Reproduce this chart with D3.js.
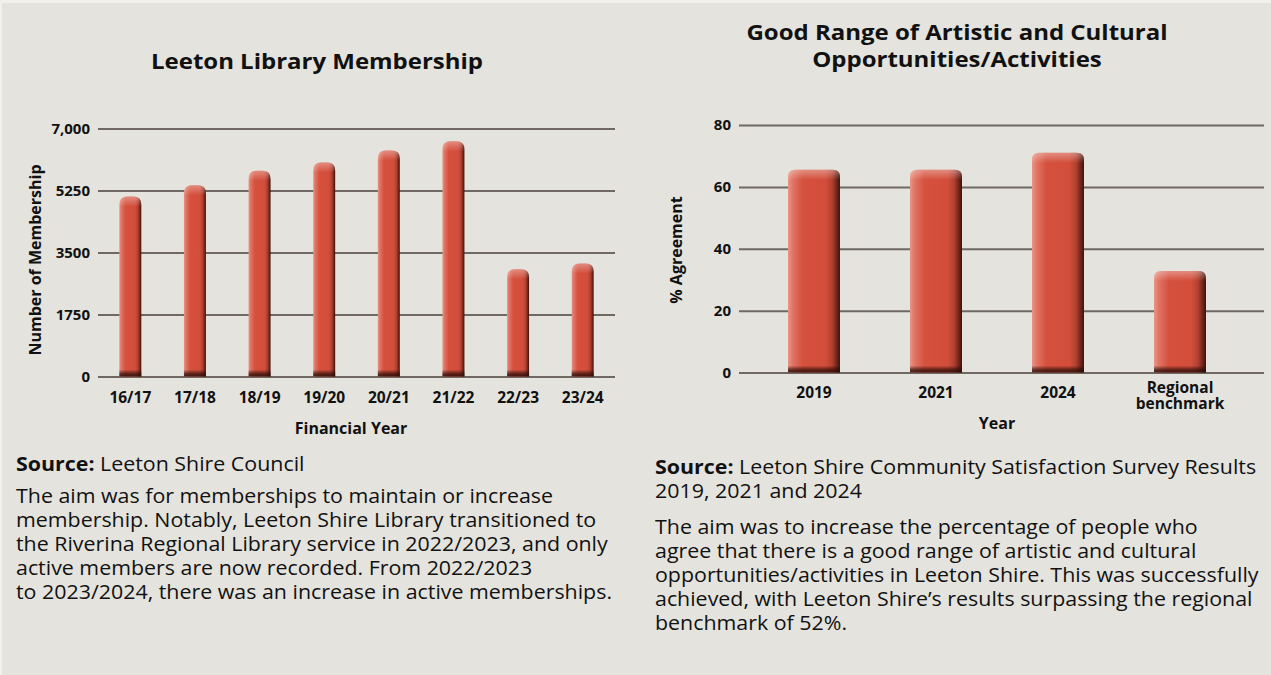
<!DOCTYPE html>
<html>
<head>
<meta charset="utf-8">
<script src="https://cdn.jsdelivr.net/npm/d3@7"></script>
<style>
  html, body { margin: 0; padding: 0; background: #f1f0ec; }
  svg { display: block; }
  text { font-family: "Open Sans", "Noto Sans", sans-serif; fill: #111; }
  .tick text { font-weight: 700; font-size: 15px; }
</style>
</head>
<body>
<script>
// Library membership chart data
const years = ["16/17", "17/18", "18/19", "19/20", "20/21", "21/22", "22/23", "23/24"];
const members = [5080, 5400, 5810, 6040, 6380, 6640, 3030, 3190];
const memberTicks = [0, 1750, 3500, 5250, 7000];
const memberTickLabels = ["0", "1750", "3500", "5250", "7,000"];

// Artistic & cultural survey data
const surveyCats = ["2019", "2021", "2024", "Regional benchmark"];
const agreement = [65.5, 65.5, 71, 32.8];
const agreeTicks = [0, 20, 40, 60, 80];

const W = 1271, H = 675;
const bg = "#e4e3dd";
const gridColor = "#6f6863";

const svg = d3.select("body").append("svg")
  .attr("width", W).attr("height", H);

svg.append("rect").attr("x", 2).attr("y", 3).attr("width", W - 2).attr("height", H - 3).attr("fill", bg);

// gradients for the bars
const defs = svg.append("defs");
const gH = defs.append("linearGradient").attr("id", "barH").attr("x1", 0).attr("x2", 1).attr("y1", 0).attr("y2", 0);
[[0, "#e99484"], [0.1, "#e07262"], [0.28, "#d5513e"], [0.72, "#d24e3b"], [0.85, "#b0402f"], [0.94, "#6e2419"], [1, "#38120c"]]
  .forEach(s => gH.append("stop").attr("offset", s[0]).attr("stop-color", s[1]));
const gTop = defs.append("linearGradient").attr("id", "barTop").attr("x1", 0).attr("x2", 0).attr("y1", 0).attr("y2", 1);
gTop.append("stop").attr("offset", 0).attr("stop-color", "#fff").attr("stop-opacity", 0.35);
gTop.append("stop").attr("offset", 1).attr("stop-color", "#fff").attr("stop-opacity", 0);
const gBot = defs.append("linearGradient").attr("id", "barBot").attr("x1", 0).attr("x2", 0).attr("y1", 0).attr("y2", 1);
gBot.append("stop").attr("offset", 0).attr("stop-color", "#2a0c07").attr("stop-opacity", 0);
gBot.append("stop").attr("offset", 0.6).attr("stop-color", "#2a0c07").attr("stop-opacity", 0.7);
gBot.append("stop").attr("offset", 1).attr("stop-color", "#2a0c07").attr("stop-opacity", 0.85);

function topRounded(x, y, w, h, r) {
  r = Math.min(r, w / 2, h);
  return "M" + x + "," + (y + h) +
    "V" + (y + r) +
    "Q" + x + "," + y + " " + (x + r) + "," + y +
    "H" + (x + w - r) +
    "Q" + (x + w) + "," + y + " " + (x + w) + "," + (y + r) +
    "V" + (y + h) + "Z";
}

function drawBars(g, data, x, y, r) {
  const bars = g.selectAll("g.bar").data(data).enter().append("g").attr("class", "bar");
  bars.append("path")
    .attr("d", d => topRounded(x(d.k), y(d.v), x.bandwidth(), y(0) - y(d.v), r))
    .attr("fill", "url(#barH)");
  bars.append("path")
    .attr("d", d => topRounded(x(d.k), y(d.v), x.bandwidth(), Math.min(10, y(0) - y(d.v)), r))
    .attr("fill", "url(#barTop)");
  bars.append("rect")
    .attr("x", d => x(d.k)).attr("y", y(0) - 7)
    .attr("width", x.bandwidth()).attr("height", 7)
    .attr("fill", "url(#barBot)");
}

function styleGrid(g) {
  g.select(".domain").remove();
  g.selectAll(".tick line").attr("stroke", gridColor).attr("stroke-width", 2);
}

// stretched text helper (reference font is wider than Open Sans at the same height)
function wideText(parent, x, y, str, size, k, anchor) {
  return parent.append("text")
    .attr("transform", "translate(" + x + "," + y + ") scale(" + k + ",1)")
    .attr("text-anchor", anchor || "start")
    .style("font-size", size + "px").text(str);
}

// ---------- Left chart ----------
const L = svg.append("g");
const x1 = d3.scaleBand().domain(years).range([98, 615]).paddingInner(0.66).paddingOuter(0.33);
const y1 = d3.scaleLinear().domain([0, 7000]).range([376.5, 128.5]);

L.append("g").attr("transform", "translate(98,0)")
  .call(d3.axisLeft(y1).tickValues(memberTicks).tickSize(-517).tickPadding(8)
    .tickFormat((d, i) => memberTickLabels[i]))
  .call(styleGrid);

drawBars(L, years.map((k, i) => ({k: k, v: members[i]})), x1, y1, 8);

L.append("g").attr("transform", "translate(0,376.5)")
  .call(d3.axisBottom(x1).tickSize(0).tickPadding(15))
  .call(g => g.select(".domain").remove())
  .selectAll(".tick text").style("font-size", "15.5px");

wideText(L, 317, 69, "Leeton Library Membership", 21.5, 1.116, "middle").style("font-weight", 700);
L.append("text").attr("x", 351).attr("y", 434).attr("text-anchor", "middle")
  .style("font-size", "16px").style("font-weight", 700).text("Financial Year");
L.append("text").attr("transform", "translate(41,260) rotate(-90)").attr("text-anchor", "middle")
  .style("font-size", "16px").style("font-weight", 700).text("Number of Membership");

// ---------- Right chart ----------
const R = svg.append("g");
const x2 = d3.scaleBand().domain(surveyCats).range([753, 1241]).paddingInner(0.574).paddingOuter(0.287);
const y2 = d3.scaleLinear().domain([0, 80]).range([372.5, 125]);

R.append("g").attr("transform", "translate(739,0)")
  .call(d3.axisLeft(y2).tickValues(agreeTicks).tickSize(-525).tickPadding(8))
  .call(styleGrid);

drawBars(R, surveyCats.map((k, i) => ({k: k, v: agreement[i]})), x2, y2, 7);

const xa2 = R.append("g").attr("transform", "translate(0,372.5)")
  .call(d3.axisBottom(x2).tickSize(0).tickPadding(14))
  .call(g => g.select(".domain").remove());
xa2.selectAll(".tick text").style("font-size", "15.5px").each(function(d) {
  const t = d3.select(this);
  const words = d.split(" ");
  if (words.length > 1) {
    t.text(null).attr("dy", null).attr("y", null);
    words.forEach((w, i) => t.append("tspan").attr("x", 0).attr("y", i ? 36.5 : 20.5).text(w));
  }
});

wideText(R, 957, 40, "Good Range of Artistic and Cultural", 21.5, 1.116, "middle").style("font-weight", 700);
wideText(R, 957, 67, "Opportunities/Activities", 21.5, 1.116, "middle").style("font-weight", 700);
R.append("text").attr("x", 997).attr("y", 429).attr("text-anchor", "middle")
  .style("font-size", "16px").style("font-weight", 700).text("Year");
R.append("text").attr("transform", "translate(682,250) rotate(-90)").attr("text-anchor", "middle")
  .style("font-size", "16px").style("font-weight", 700).text("% Agreement");

// ---------- Notes ----------
function note(x, y, src, lines, gap) {
  const g = svg.append("g");
  const fs = 19.5, k = 1.097;
  let yy = y;
  src.forEach((s, i) => {
    const t = wideText(g, x, yy, "", fs, k);
    if (i === 0) t.append("tspan").style("font-weight", 700).text("Source: ");
    t.append("tspan").text(s);
    yy += 23.5;
  });
  yy += gap;
  lines.forEach(l => {
    wideText(g, x, yy, l, fs, k);
    yy += 24;
  });
}

note(16, 471, ["Leeton Shire Council"], [
  "The aim was for memberships to maintain or increase",
  "membership. Notably, Leeton Shire Library transitioned to",
  "the Riverina Regional Library service in 2022/2023, and only",
  "active members are now recorded. From 2022/2023",
  "to 2023/2024, there was an increase in active memberships."
], 8);

note(655, 474, ["Leeton Shire Community Satisfaction Survey Results", "2019, 2021 and 2024"], [
  "The aim was to increase the percentage of people who",
  "agree that there is a good range of artistic and cultural",
  "opportunities/activities in Leeton Shire. This was successfully",
  "achieved, with Leeton Shire\u2019s results surpassing the regional",
  "benchmark of 52%."
], 12.5);
</script>
</body>
</html>
